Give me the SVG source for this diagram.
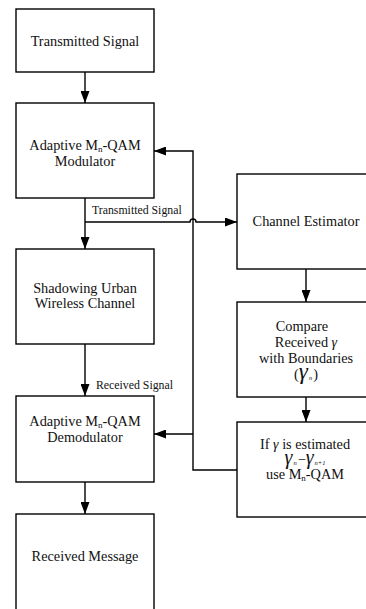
<svg xmlns="http://www.w3.org/2000/svg" width="366" height="609" viewBox="0 0 366 609" font-family="'Liberation Serif', 'Times New Roman', serif">
<defs>
<style>
.box{fill:#fff;stroke:#000;stroke-width:1.4}
.ln{fill:none;stroke:#000;stroke-width:1.4}
.t{font-family:'Liberation Serif','Times New Roman',serif;font-size:14.3px;fill:#111;text-anchor:middle}
.lb{font-family:'Liberation Serif','Times New Roman',serif;font-size:11.8px;fill:#111}
.gs{font-style:italic;font-size:14px}
.gb{font-style:italic;font-size:23px}
.gm{font-style:italic;font-size:20px}
.sb{font-size:9px}
.ss{font-style:italic;font-size:6.5px}
</style>
<marker id="ah" markerUnits="userSpaceOnUse" markerWidth="12" markerHeight="9" refX="12" refY="4.5" orient="auto">
<path d="M0,0 L12,4.5 L0,9 Z" fill="#000"/>
</marker>
</defs>
<rect width="366" height="609" fill="#fff"/>
<g id="connectors">
<path class="ln" d="M85,72 V103" marker-end="url(#ah)"/>
<path class="ln" d="M85,198 V249" marker-end="url(#ah)"/>
<path class="ln" d="M85,222 H190 A3,3 0 0 1 196,222 H237" marker-end="url(#ah)"/>
<path class="ln" d="M85,344 V396" marker-end="url(#ah)"/>
<path class="ln" d="M85,482 V514" marker-end="url(#ah)"/>
<path class="ln" d="M306,269 V302" marker-end="url(#ah)"/>
<path class="ln" d="M306,397 V422" marker-end="url(#ah)"/>
<path class="ln" d="M237,470 H193 V151 H154" marker-end="url(#ah)"/>
<path class="ln" d="M193,434 H154" marker-end="url(#ah)"/>
<text class="lb" x="92" y="214">Transmitted Signal</text>
<text class="lb" x="96" y="389">Received Signal</text>
</g>
<g id="n1">
<rect class="box" x="16" y="9" width="138" height="63"/>
<text class="t" x="85" y="46">Transmitted Signal</text>
</g>
<g id="n2">
<rect class="box" x="16" y="103" width="138" height="95"/>
<text class="t" x="85" y="150">Adaptive M<tspan class="sb" dy="1.5">n</tspan><tspan dy="-1.5">-QAM</tspan></text>
<text class="t" x="85" y="166">Modulator</text>
</g>
<g id="n3">
<rect class="box" x="16" y="249" width="138" height="95"/>
<text class="t" x="85" y="293">Shadowing Urban</text>
<text class="t" x="85" y="308">Wireless Channel</text>
</g>
<g id="n4">
<rect class="box" x="16" y="396" width="138" height="86"/>
<text class="t" x="85" y="426">Adaptive M<tspan class="sb" dy="1.5">n</tspan><tspan dy="-1.5">-QAM</tspan></text>
<text class="t" x="85" y="442">Demodulator</text>
</g>
<g id="n5">
<rect class="box" x="16" y="514" width="138" height="110"/>
<text class="t" x="85" y="561">Received Message</text>
</g>
<g id="n6">
<rect class="box" x="237" y="174" width="138" height="95"/>
<text class="t" x="306" y="226">Channel Estimator</text>
</g>
<g id="n7">
<rect class="box" x="237" y="302" width="138" height="95"/>
<text class="t" x="302" y="331">Compare</text>
<text class="t" x="306" y="347">Received  <tspan class="gs">γ</tspan></text>
<text class="t" x="306" y="363">with Boundaries</text>
<text class="t" x="306" y="379">(<tspan class="gb">γ</tspan><tspan class="ss" dx="1" dy="1">n</tspan><tspan dx="1" dy="-1">)</tspan></text>
</g>
<g id="n8">
<rect class="box" x="237" y="422" width="138" height="95"/>
<text class="t" x="305" y="449">If <tspan class="gs">γ</tspan> is estimated</text>
<text class="t" x="305" y="464"><tspan class="gm">γ</tspan><tspan class="ss" dx="1" dy="1">n</tspan><tspan dx="1" dy="-1">−</tspan><tspan class="gm">γ</tspan><tspan class="ss" dx="1" dy="1">n+1</tspan></text>
<text class="t" x="305" y="479">use M<tspan class="sb" dy="1.5">n</tspan><tspan dy="-1.5">-QAM</tspan></text>
</g>
</svg>
